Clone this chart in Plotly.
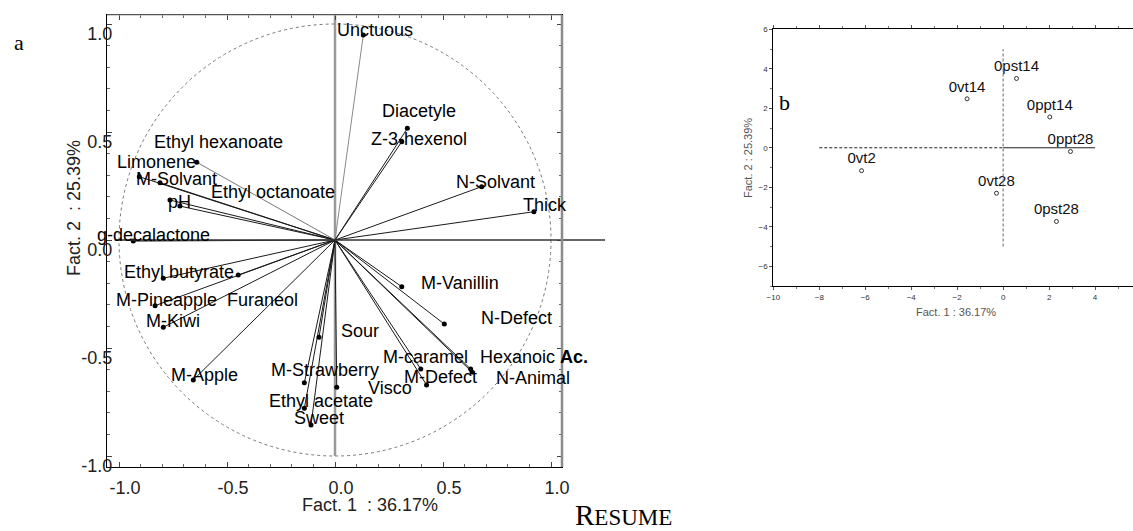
import plotly.graph_objects as go

W, H = 1133, 531

# ---------------- data: left panel (correlation circle) ----------------
variables = ["Unctuous", "Diacetyle", "Z-3-hexenol", "N-Solvant", "Thick",
             "M-Vanillin", "N-Defect", "Hexanoic <b>Ac.</b>", "M-caramel", "M-Defect",
             "N-Animal", "Visco", "Sour", "M-Strawberry", "Ethyl acetate",
             "Sweet", "M-Apple", "M-Kiwi", "M-Pineapple", "Furaneol",
             "Ethyl butyrate", "g-decalactone", "pH", "Ethyl octanoate", "M-Solvant",
             "Limonene", "Ethyl hexanoate"]
fact1 = [0.131, 0.335, 0.309, 0.679, 0.921,
         0.309, 0.506, 0.628, 0.397, 0.424,
         0.634, 0.008, -0.074, -0.142, -0.142,
         -0.111, -0.656, -0.795, -0.833, -0.448,
         -0.795, -0.934, -0.718, -0.764, -0.810,
         -0.906, -0.640]
fact2 = [0.949, 0.517, 0.455, 0.247, 0.131,
         -0.216, -0.389, -0.597, -0.597, -0.671,
         -0.611, -0.682, -0.450, -0.661, -0.779,
         -0.856, -0.648, -0.404, -0.304, -0.162,
         -0.177, -0.005, 0.157, 0.185, 0.265,
         0.293, 0.360]
left_ticks = [-1.0, -0.5, 0.0, 0.5, 1.0]
left_ticktext = ["-1.0", "-0.5", "0.0", "0.5", "1.0"]

# ---------------- data: right panel (observations) ----------------
samples = ["0pst14", "0vt14", "0ppt14", "0ppt28", "0vt2", "0vt28", "0pst28"]
obs_f1 = [0.58, -1.57, 2.03, 2.93, -6.16, -0.29, 2.32]
obs_f2 = [3.51, 2.48, 1.56, -0.19, -1.16, -2.30, -3.73]
right_xticks = [-10, -8, -6, -4, -2, 0, 2, 4]
right_yticks = [-6, -4, -2, 0, 2, 4, 6]

# ---------------- styling (label placement offsets in px) ----------------
label_dx = [-27, -26, -32, -27, -12,
            18, 36, 8, -39, -24,
            23, 30, 21, -34, -36,
            -18, -23, -18, -40, -12,
            -40, -37, -13, 40, -25,
            -23, -44]
label_dy = [-5, -17, -3, -5, -7,
            -4, -6, -12, -12, -8,
            6, 1, -6, -13, -7,
            -7, -5, -6, -6, 25,
            -6, -6, -4, -8, -4,
            -15, -20]
line_colors = ["#8a8a8a"] + ["#1a1a1a"] * 25 + ["#777777"]

FONT = "Liberation Sans, Arial, sans-serif"
SERIF = "Liberation Serif, Times New Roman, serif"

LX = [107 / W, 562 / W]
LY = [1 - 467 / H, 1 - 15 / H]
LXR = [-1.0556, 1.0509]
LYR = [-1.0509, 1.0417]
RX = [773.3 / W, 1.0]
RY = [1 - 286 / H, 1 - 29.3 / H]
RXR = [-10, 5.65]
RYR = [-7, 6]


def xpaper(v):
    return LX[0] + (v - LXR[0]) / (LXR[1] - LXR[0]) * (LX[1] - LX[0])


def ypaper(v):
    return LY[0] + (v - LYR[0]) / (LYR[1] - LYR[0]) * (LY[1] - LY[0])


fig = go.Figure()

# vectors
for i in range(len(variables)):
    fig.add_trace(go.Scatter(x=[0, fact1[i]], y=[0, fact2[i]], mode="lines",
                             line=dict(color=line_colors[i], width=1),
                             hoverinfo="skip", showlegend=False,
                             xaxis="x", yaxis="y"))
fig.add_trace(go.Scatter(x=fact1, y=fact2, mode="markers",
                         marker=dict(color="black", size=5),
                         showlegend=False, xaxis="x", yaxis="y",
                         text=variables, hoverinfo="text"))

# observations
fig.add_trace(go.Scatter(x=obs_f1, y=obs_f2, mode="markers+text",
                         text=samples, textposition="top center",
                         textfont=dict(family=FONT, size=15, color="#111"),
                         marker=dict(symbol="circle-open", size=4,
                                     color="#333", line=dict(width=1)),
                         showlegend=False, xaxis="x2", yaxis="y2",
                         cliponaxis=False))

shapes = [
    dict(type="circle", xref="x", yref="y", x0=-1, x1=1, y0=-1, y1=1,
         line=dict(color="#777", width=1, dash="dot"), layer="below"),
    dict(type="line", xref="x", yref="y", x0=0, x1=0, y0=-1.0, y1=LYR[1],
         line=dict(color="#9a9a9a", width=2.5), layer="below"),
    dict(type="line", xref="paper", yref="paper", x0=xpaper(-1.02), x1=xpaper(1.25),
         y0=ypaper(0), y1=ypaper(0), line=dict(color="#333", width=1.5)),
    dict(type="line", xref="paper", yref="paper", x0=LX[0], x1=LX[1], y0=LY[1], y1=LY[1],
         line=dict(color="#aaa", width=1)),
    dict(type="line", xref="paper", yref="paper", x0=LX[1], x1=LX[1], y0=LY[0], y1=LY[1],
         line=dict(color="#8c8c8c", width=2.5)),
    dict(type="line", xref="x2", yref="y2", x0=-8, x1=0, y0=0, y1=0,
         line=dict(color="#222", width=1, dash="3px,2px")),
    dict(type="line", xref="x2", yref="y2", x0=0, x1=4, y0=0, y1=0,
         line=dict(color="#222", width=1)),
    dict(type="line", xref="x2", yref="y2", x0=0, x1=0, y0=-5, y1=5,
         line=dict(color="#666", width=1, dash="3px,2px")),
]

annotations = []
for i, name in enumerate(variables):
    annotations.append(dict(x=fact1[i], y=fact2[i], xref="x", yref="y",
                            text=name, showarrow=False, xanchor="left",
                            yanchor="middle", xshift=label_dx[i], yshift=-label_dy[i],
                            borderpad=0,
                            font=dict(family=FONT, size=18, color="black")))


def paper_note(px, py, text, size, family=FONT, color="#222", angle=0, xanchor="center"):
    return dict(x=px / W, y=1 - py / H, xref="paper", yref="paper", text=text,
                showarrow=False, textangle=angle, xanchor=xanchor, yanchor="middle",
                font=dict(family=family, size=size, color=color))


annotations += [
    paper_note(370, 505, "Fact. 1\u00a0 : 36.17%", 18),
    paper_note(74, 208, "Fact. 2\u00a0 : 25.39%", 18, angle=-90),
    paper_note(956, 312, "Fact. 1 : 36.17%", 11, color="#555"),
    paper_note(748, 158, "Fact. 2 : 25.39%", 11, color="#555", angle=-90),
    paper_note(12, 43, "a", 22, family=SERIF, color="black", xanchor="left"),
    paper_note(777, 102, "b", 22, family=SERIF, color="black", xanchor="left"),
    paper_note(573, 515, "R<span style='font-size:23px'>ESUME</span>", 29,
               family=SERIF, color="black", xanchor="left"),
]

fig.update_layout(
    width=W, height=H,
    margin=dict(l=0, r=0, t=0, b=0, autoexpand=False),
    paper_bgcolor="white", plot_bgcolor="white",
    shapes=shapes, annotations=annotations,
    xaxis=dict(domain=LX, range=LXR, tickvals=left_ticks, ticktext=left_ticktext,
               showgrid=False, zeroline=False, showline=True, linecolor="black",
               linewidth=1, mirror="ticks", ticks="inside", ticklen=5,
               tickcolor="#444", ticklabelshift=6, ticklabelstandoff=4,
               minor=dict(ticks="inside", dtick=0.1, ticklen=3, tickcolor="#666"),
               tickfont=dict(family=FONT, size=18, color="#222"), automargin=False,
               anchor="y"),
    yaxis=dict(domain=LY, range=LYR, tickvals=left_ticks, ticktext=left_ticktext,
               showgrid=False, zeroline=False, showline=True, linecolor="black",
               linewidth=1, mirror="ticks", ticks="inside", ticklen=5,
               tickcolor="#444", ticklabelshift=10, ticklabelstandoff=-10,
               minor=dict(ticks="inside", dtick=0.1, ticklen=3, tickcolor="#666"),
               tickfont=dict(family=FONT, size=18, color="#222"), automargin=False,
               anchor="x"),
    xaxis2=dict(domain=RX, range=RXR, tickvals=right_xticks,
                showgrid=False, zeroline=False, showline=True, linecolor="black",
                linewidth=1, mirror="ticks", ticks="outside", ticklen=3,
                tickcolor="#555",
                minor=dict(ticks="outside", dtick=1, ticklen=2, tickcolor="#777"),
                tickfont=dict(family=FONT, size=8, color="#333"), automargin=False,
                anchor="y2"),
    yaxis2=dict(domain=RY, range=RYR, tickvals=right_yticks,
                showgrid=False, zeroline=False, showline=True, linecolor="black",
                linewidth=1, mirror="ticks", ticks="outside", ticklen=3,
                tickcolor="#555",
                minor=dict(ticks="outside", dtick=1, ticklen=2, tickcolor="#777"),
                tickfont=dict(family=FONT, size=8, color="#333"), automargin=False,
                anchor="x2"),
)

fig.write_html("out.html", config={"displayModeBar": False},
               post_script="document.body.style.margin='0';document.body.style.overflow='hidden';")
